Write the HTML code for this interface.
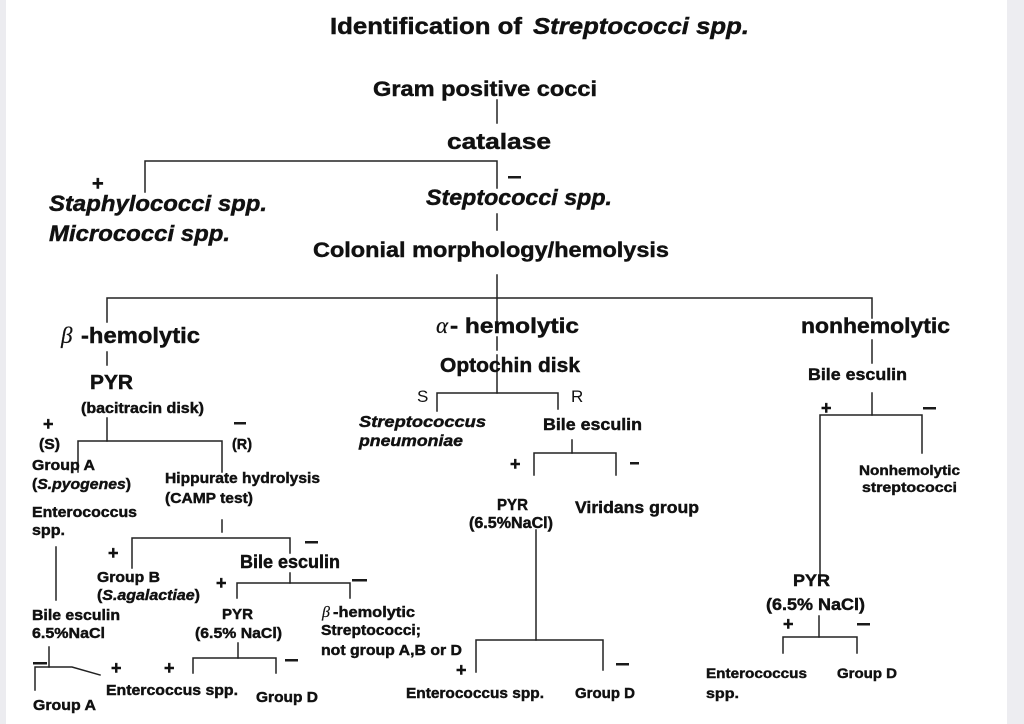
<!DOCTYPE html>
<html>
<head>
<meta charset="utf-8">
<style>
  html,body{margin:0;padding:0;background:#fff;}
  body{width:1024px;height:724px;overflow:hidden;position:relative;}
  svg{position:absolute;left:0;top:0;}
  text{font-family:"Liberation Sans",Arial,sans-serif;font-weight:bold;fill:#111;stroke:#111;stroke-width:0.45;}
  .it{font-style:italic;}
  .gr{font-family:"Liberation Serif",serif;font-style:italic;font-weight:normal;stroke-width:0.2;}
  .rg{font-weight:normal;stroke-width:0;}
</style>
</head>
<body>
<svg width="1024" height="724" viewBox="0 0 1024 724" xmlns="http://www.w3.org/2000/svg">
  <rect x="0" y="0" width="1024" height="724" fill="#ffffff"/>
  <rect x="0" y="0" width="6" height="724" fill="#ececf0"/>
  <rect x="1007" y="0" width="17" height="724" fill="#ededf1"/>

  <!-- connectors -->
  <g stroke="#222" stroke-width="1.5" fill="none" stroke-linecap="square">
    <path d="M497 100V123"/>
    <path d="M145 192V161H497V188"/>
    <path d="M497 214V230"/>
    <path d="M497 275V323"/>
    <path d="M107 322V298H872V318"/>
    <path d="M107 352V365"/>
    <path d="M107 418V441"/>
    <path d="M78 472V441H222V472"/>
    <path d="M56 547V600"/>
    <path d="M222 520V532"/>
    <path d="M132 568V538H290V553"/>
    <path d="M290 573V583"/>
    <path d="M237 598V583H350V598"/>
    <path d="M238 643V658"/>
    <path d="M193 673V658H276V673"/>
    <path d="M49 647V667"/>
    <path d="M35 690V667H72L100 675"/>
    <path d="M497 337V350"/>
    <path d="M497 355V393"/>
    <path d="M437 411V393H558V409"/>
    <path d="M572 440V453"/>
    <path d="M534 475V453H616V475"/>
    <path d="M536 530V640"/>
    <path d="M476 672V640H603V670"/>
    <path d="M872 340V363"/>
    <path d="M872 393V415"/>
    <path d="M820 583V415H922V453"/>
    <path d="M819 616V637"/>
    <path d="M783 653V637H857V653"/>
  </g>

  <!-- minus signs -->
  <g fill="#1a1a1a">
    <rect x="508" y="176" width="13" height="2.5"/>
    <rect x="234" y="422" width="12" height="2.5"/>
    <rect x="305" y="541" width="13" height="2.5"/>
    <rect x="352" y="579" width="15" height="2.5"/>
    <rect x="285" y="659" width="13" height="2.5"/>
    <rect x="33" y="662" width="14" height="2.5"/>
    <rect x="630" y="462" width="9" height="2.5"/>
    <rect x="616" y="663" width="13" height="2.5"/>
    <rect x="923" y="407" width="13" height="2.5"/>
    <rect x="857" y="623" width="13" height="2.5"/>
  </g>

  <!-- plus signs -->
  <g>
    <text x="92" y="190" font-size="20">+</text>
    <text x="43" y="430" font-size="18">+</text>
    <text x="108" y="559" font-size="18">+</text>
    <text x="216" y="589" font-size="18">+</text>
    <text x="111" y="674" font-size="18">+</text>
    <text x="164" y="674" font-size="18">+</text>
    <text x="510" y="470" font-size="18">+</text>
    <text x="456" y="676" font-size="18">+</text>
    <text x="821" y="414" font-size="18">+</text>
    <text x="783" y="630" font-size="18">+</text>
  </g>

  <!-- title -->
  <text x="330" y="34" font-size="23" textLength="192" lengthAdjust="spacingAndGlyphs">Identification of</text>
  <text x="533" y="34" font-size="23" class="it" textLength="216" lengthAdjust="spacingAndGlyphs">Streptococci spp.</text>

  <text x="373" y="96" font-size="21" textLength="224" lengthAdjust="spacingAndGlyphs">Gram positive cocci</text>
  <text x="447" y="149" font-size="22" textLength="104" lengthAdjust="spacingAndGlyphs">catalase</text>

  <text x="49" y="211" font-size="22" class="it" textLength="218" lengthAdjust="spacingAndGlyphs">Staphylococci spp.</text>
  <text x="49" y="241" font-size="22" class="it" textLength="181" lengthAdjust="spacingAndGlyphs">Micrococci spp.</text>
  <text x="426" y="205" font-size="22" class="it" textLength="186" lengthAdjust="spacingAndGlyphs">Steptococci spp.</text>

  <text x="313" y="257" font-size="21" textLength="356" lengthAdjust="spacingAndGlyphs">Colonial morphology/hemolysis</text>

  <!-- beta column -->
  <text x="61" y="343" font-size="23" class="gr">β</text>
  <text x="81" y="343" font-size="22" textLength="119" lengthAdjust="spacingAndGlyphs">-hemolytic</text>
  <text x="90" y="389" font-size="20" textLength="43" lengthAdjust="spacingAndGlyphs">PYR</text>
  <text x="81" y="413" font-size="15" textLength="123" lengthAdjust="spacingAndGlyphs">(bacitracin disk)</text>
  <text x="39" y="449" font-size="15" textLength="21" lengthAdjust="spacingAndGlyphs">(S)</text>
  <text x="232" y="449" font-size="15" textLength="20" lengthAdjust="spacingAndGlyphs">(R)</text>
  <text x="32" y="470" font-size="15" textLength="63" lengthAdjust="spacingAndGlyphs">Group A</text>
  <text x="32" y="489" font-size="15" textLength="99" lengthAdjust="spacingAndGlyphs">(<tspan class="it">S.pyogenes</tspan>)</text>
  <text x="32" y="517" font-size="15" textLength="105" lengthAdjust="spacingAndGlyphs">Enterococcus</text>
  <text x="32" y="535" font-size="15" textLength="33" lengthAdjust="spacingAndGlyphs">spp.</text>
  <text x="165" y="483" font-size="15" textLength="155" lengthAdjust="spacingAndGlyphs">Hippurate hydrolysis</text>
  <text x="165" y="503" font-size="15" textLength="88" lengthAdjust="spacingAndGlyphs">(CAMP test)</text>
  <text x="97" y="582" font-size="15" textLength="63" lengthAdjust="spacingAndGlyphs">Group B</text>
  <text x="97" y="600" font-size="15" textLength="103" lengthAdjust="spacingAndGlyphs">(<tspan class="it">S.agalactiae</tspan>)</text>
  <text x="240" y="568" font-size="18" textLength="100" lengthAdjust="spacingAndGlyphs">Bile esculin</text>
  <text x="32" y="620" font-size="15" textLength="88" lengthAdjust="spacingAndGlyphs">Bile esculin</text>
  <text x="32" y="638" font-size="15" textLength="73" lengthAdjust="spacingAndGlyphs">6.5%NaCl</text>
  <text x="222" y="619" font-size="15" textLength="31" lengthAdjust="spacingAndGlyphs">PYR</text>
  <text x="195" y="638" font-size="15" textLength="87" lengthAdjust="spacingAndGlyphs">(6.5% NaCl)</text>
  <text x="322" y="617" font-size="16" class="gr">β</text>
  <text x="333" y="617" font-size="15" textLength="82" lengthAdjust="spacingAndGlyphs">-hemolytic</text>
  <text x="321" y="635" font-size="15" textLength="100" lengthAdjust="spacingAndGlyphs">Streptococci;</text>
  <text x="321" y="655" font-size="15" textLength="141" lengthAdjust="spacingAndGlyphs">not group A,B or D</text>
  <text x="106" y="695" font-size="15" textLength="132" lengthAdjust="spacingAndGlyphs">Entercoccus spp.</text>
  <text x="256" y="702" font-size="15" textLength="62" lengthAdjust="spacingAndGlyphs">Group D</text>
  <text x="33" y="710" font-size="15" textLength="63" lengthAdjust="spacingAndGlyphs">Group A</text>

  <!-- alpha column -->
  <text x="436" y="333" font-size="23" class="gr">α</text>
  <text x="450" y="333" font-size="21" textLength="129" lengthAdjust="spacingAndGlyphs">- hemolytic</text>
  <text x="440" y="372" font-size="20" textLength="140" lengthAdjust="spacingAndGlyphs">Optochin disk</text>
  <text x="417" y="402" font-size="17" class="rg">S</text>
  <text x="571" y="402" font-size="17" class="rg">R</text>
  <text x="359" y="427" font-size="16" class="it" textLength="127" lengthAdjust="spacingAndGlyphs">Streptococcus</text>
  <text x="359" y="446" font-size="16" class="it" textLength="104" lengthAdjust="spacingAndGlyphs">pneumoniae</text>
  <text x="543" y="430" font-size="17" textLength="99" lengthAdjust="spacingAndGlyphs">Bile esculin</text>
  <text x="497" y="510" font-size="16" textLength="31" lengthAdjust="spacingAndGlyphs">PYR</text>
  <text x="469" y="528" font-size="16" textLength="84" lengthAdjust="spacingAndGlyphs">(6.5%NaCl)</text>
  <text x="575" y="513" font-size="17" textLength="124" lengthAdjust="spacingAndGlyphs">Viridans group</text>
  <text x="406" y="698" font-size="15" textLength="138" lengthAdjust="spacingAndGlyphs">Enterococcus spp.</text>
  <text x="575" y="698" font-size="15" textLength="60" lengthAdjust="spacingAndGlyphs">Group D</text>

  <!-- nonhemolytic column -->
  <text x="801" y="333" font-size="21" textLength="149" lengthAdjust="spacingAndGlyphs">nonhemolytic</text>
  <text x="808" y="380" font-size="17" textLength="99" lengthAdjust="spacingAndGlyphs">Bile esculin</text>
  <text x="859" y="475" font-size="14" textLength="101" lengthAdjust="spacingAndGlyphs">Nonhemolytic</text>
  <text x="862" y="492" font-size="14" textLength="95" lengthAdjust="spacingAndGlyphs">streptococci</text>
  <text x="793" y="586" font-size="17" textLength="37" lengthAdjust="spacingAndGlyphs">PYR</text>
  <text x="766" y="610" font-size="17" textLength="99" lengthAdjust="spacingAndGlyphs">(6.5% NaCl)</text>
  <text x="706" y="678" font-size="14" textLength="101" lengthAdjust="spacingAndGlyphs">Enterococcus</text>
  <text x="706" y="698" font-size="14" textLength="33" lengthAdjust="spacingAndGlyphs">spp.</text>
  <text x="837" y="678" font-size="14" textLength="60" lengthAdjust="spacingAndGlyphs">Group D</text>
</svg>
</body>
</html>
